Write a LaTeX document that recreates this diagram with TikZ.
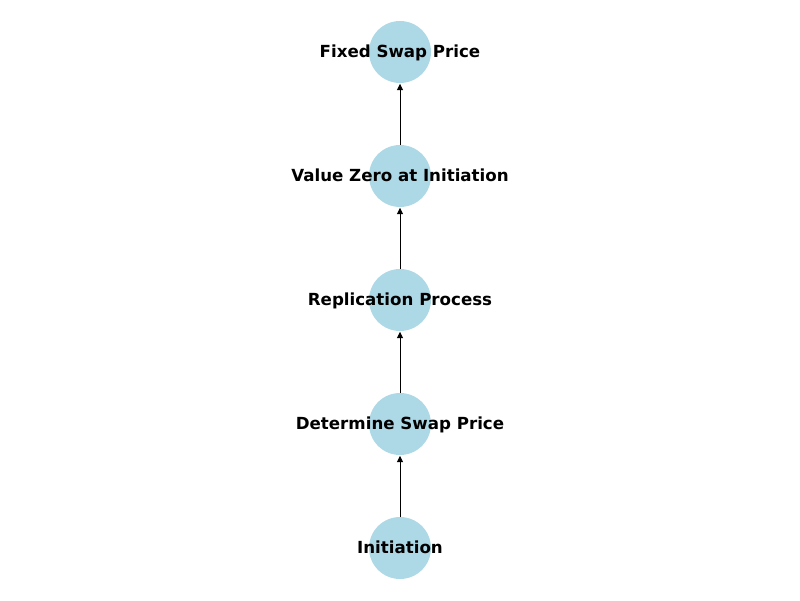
\documentclass[tikz,border=0pt]{standalone}
\usepackage{fontspec}
\setmainfont{DejaVu Sans}
\usetikzlibrary{arrows.meta,positioning}
\definecolor{nodeblue}{HTML}{ADD8E6}

\tikzset{
    dot/.style={circle, fill=nodeblue, minimum size=1.55cm, inner sep=0pt, outer sep=0pt},
    lbl/.style={font=\fontsize{11.85}{14}\selectfont\bfseries, inner sep=0pt, anchor=base, yshift=-0.13cm},
    link/.style={-{Triangle[length=0.16cm,width=0.15cm]}, line width=0.7pt, shorten >=0.5pt}
}

\begin{document}
\begin{tikzpicture}[node distance=1.55cm]
    \useasboundingbox (0,0) rectangle (20,15);

    \node[dot] (init) at (10,1.3) {};
    \node[dot, above=of init] (determine) {};
    \node[dot, above=of determine] (replication) {};
    \node[dot, above=of replication] (zero) {};
    \node[dot, above=of zero] (fixed) {};

    \node[lbl] at (init) {Initiation};
    \node[lbl] at (determine) {Determine Swap Price};
    \node[lbl] at (replication) {Replication Process};
    \node[lbl] at (zero) {Value Zero at Initiation};
    \node[lbl] at (fixed) {Fixed Swap Price};

    \draw[link] (init) -- (determine);
    \draw[link] (determine) -- (replication);
    \draw[link] (replication) -- (zero);
    \draw[link] (zero) -- (fixed);
\end{tikzpicture}
\end{document}
